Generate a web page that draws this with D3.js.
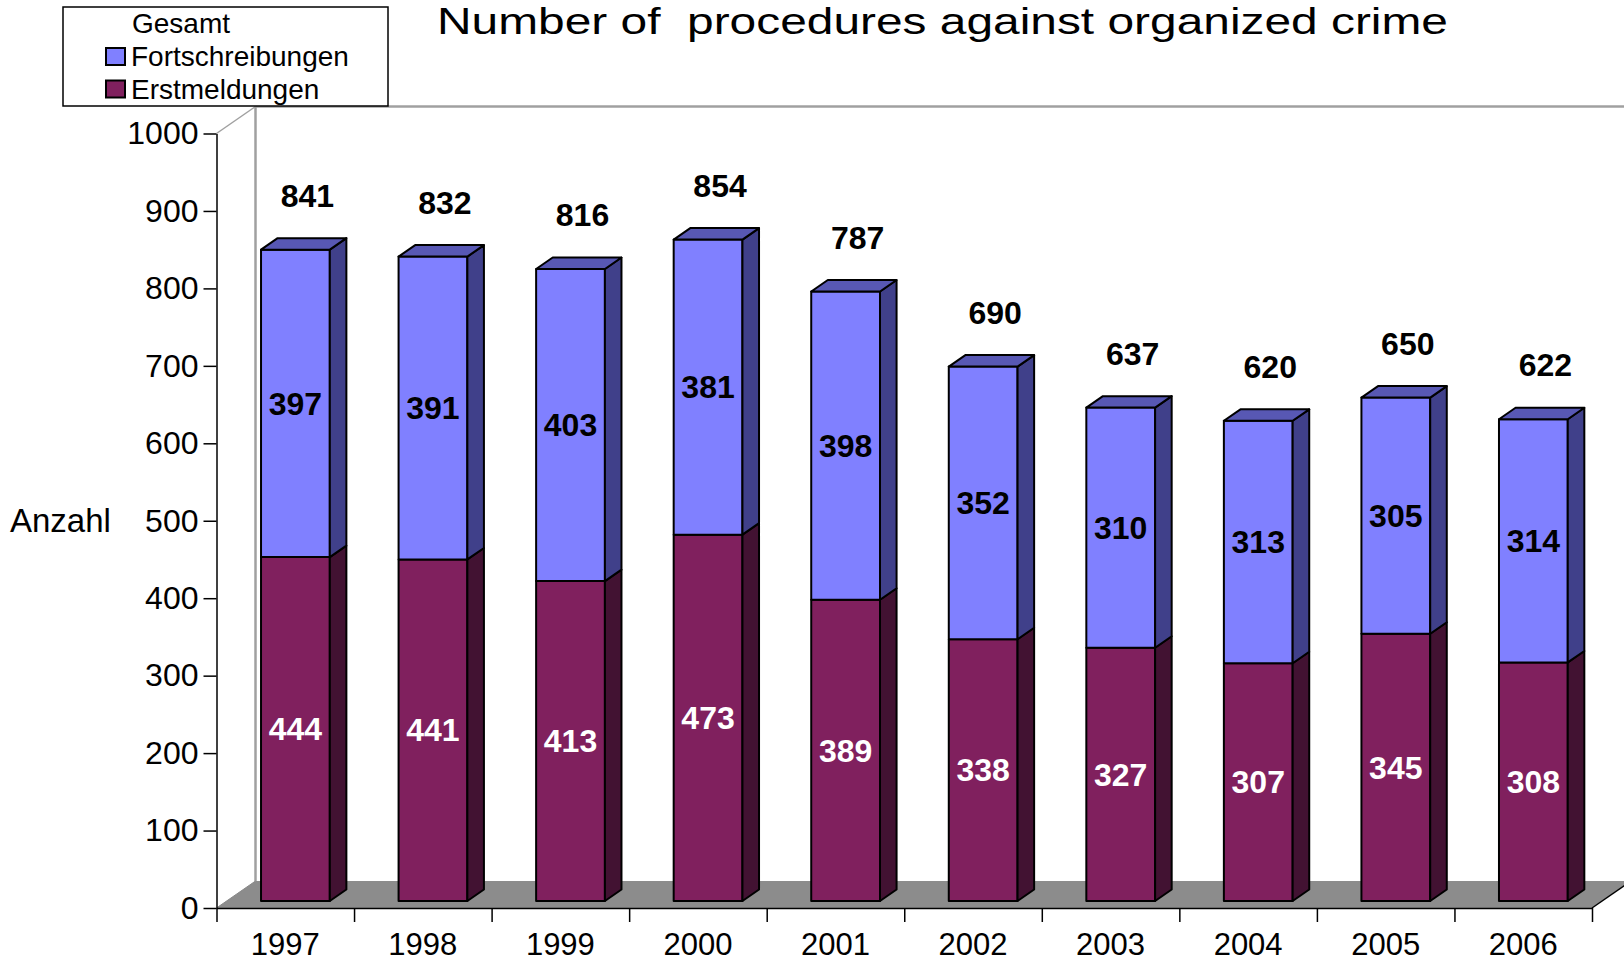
<!DOCTYPE html>
<html>
<head>
<meta charset="utf-8">
<script src="https://cdn.jsdelivr.net/npm/d3@7"></script>
<style>
  body { margin: 0; background: #fff; }
  text { font-family: "Liberation Sans", Arial, sans-serif; }
</style>
</head>
<body>
<svg width="1624" height="963"></svg>
<script>
var years = ["1997", "1998", "1999", "2000", "2001", "2002", "2003", "2004", "2005", "2006"];
var erstmeldungen = [444, 441, 413, 473, 389, 338, 327, 307, 345, 308];
var fortschreibungen = [397, 391, 403, 381, 398, 352, 310, 313, 305, 314];
var gesamt = [841, 832, 816, 854, 787, 690, 637, 620, 650, 622];
var yTicks = [0, 100, 200, 300, 400, 500, 600, 700, 800, 900, 1000];
var seriesNames = ["Fortschreibungen", "Erstmeldungen"];

var svg = d3.select("svg"),
    width = +svg.attr("width"),
    height = +svg.attr("height");

// 3d depth of the plot box (floor / walls)
var depthX = 39, depthY = -27;
// bars sit between these depth fractions
var t1 = 0.26, t2 = 0.685;

var x = d3.scaleBand()
    .domain(years)
    .range([216.5, 1592]);

var xEdges = d3.scaleLinear()
    .domain([0, years.length])
    .range([216.5, 1592]);

var y = d3.scaleLinear()
    .domain([0, 1000])
    .range([908, 133.5]);

var colors = {
    Fortschreibungen: { front: "#8080ff", side: "#40408a", top: "#5858b4" },
    Erstmeldungen: { front: "#80205e", side: "#421232", top: "#5a1642" }
};

var x0 = 216.5, x1 = 1592, yb = y(0), yt = y(1000);

// back wall + left wall outlines
var walls = svg.append("g").attr("fill", "none").attr("stroke", "#a0a0a0").attr("stroke-width", 2.5);
walls.append("line")
    .attr("x1", x0 + depthX).attr("y1", yb + depthY)
    .attr("x2", x0 + depthX).attr("y2", yt + depthY);
walls.append("line")
    .attr("x1", x0 + depthX).attr("y1", yt + depthY)
    .attr("x2", width).attr("y2", yt + depthY);
walls.append("line")
    .attr("stroke-width", 1.5)
    .attr("x1", x0).attr("y1", yt)
    .attr("x2", x0 + depthX).attr("y2", yt + depthY);

// floor
svg.append("path")
    .attr("d", "M" + x0 + "," + yb + "L" + x1 + "," + yb + "L" + (x1 + depthX) + "," + (yb + depthY) +
        "L" + (x0 + depthX) + "," + (yb + depthY) + "Z")
    .attr("fill", "#8c8c8c")
    .attr("stroke", "none");
svg.append("line")
    .attr("x1", x1).attr("y1", yb)
    .attr("x2", x1 + depthX).attr("y2", yb + depthY)
    .attr("stroke", "#000").attr("stroke-width", 1.5);
svg.append("line")
    .attr("x1", x0).attr("y1", yb)
    .attr("x2", x0 + depthX).attr("y2", yb + depthY)
    .attr("stroke", "#888").attr("stroke-width", 1);

// axes
var yAxis = svg.append("g")
    .attr("transform", "translate(" + x0 + ",0)")
    .call(d3.axisLeft(y).tickValues(yTicks).tickFormat(d3.format("d")).tickSize(13).tickSizeOuter(0).tickPadding(5));
yAxis.selectAll("text").attr("font-size", 32).attr("font-family", "'Liberation Sans', Arial, sans-serif").attr("fill", "#000");
yAxis.selectAll("line, path").attr("stroke", "#000").attr("stroke-width", 1.5);

var xTickAxis = svg.append("g")
    .attr("transform", "translate(0," + yb + ")")
    .call(d3.axisBottom(xEdges).tickValues(d3.range(years.length + 1)).tickFormat("").tickSize(14).tickSizeOuter(0));
xTickAxis.selectAll("line, path").attr("stroke", "#000").attr("stroke-width", 1.5);

var xAxis = svg.append("g")
    .attr("transform", "translate(0," + yb + ")")
    .call(d3.axisBottom(x).tickSize(0).tickPadding(25));
xAxis.select(".domain").remove();
xAxis.selectAll("text").attr("font-size", 31).attr("font-family", "'Liberation Sans', Arial, sans-serif").attr("fill", "#000");

svg.append("text")
    .attr("x", 10)
    .attr("y", y(500))
    .attr("dy", "0.35em")
    .attr("font-size", 33)
    .text("Anzahl");

// bars
var barW = x.bandwidth() * 0.5;
var offX = depthX * t1, offY = depthY * t1;
var sideX = depthX * (t2 - t1), sideY = depthY * (t2 - t1);

var rows = years.map(function (yr, i) {
    return [
        { year: yr, name: "Erstmeldungen", v0: 0, v1: erstmeldungen[i] },
        { year: yr, name: "Fortschreibungen", v0: erstmeldungen[i], v1: erstmeldungen[i] + fortschreibungen[i] }
    ];
});

function frontLeft(d) { return x(d.year) + x.bandwidth() / 2 - barW / 2 + offX; }

var bars = svg.append("g")
    .attr("stroke", "#000")
    .attr("stroke-width", 2)
    .attr("stroke-linejoin", "round")
    .selectAll("g")
    .data(rows)
    .enter().append("g");

var seg = bars.selectAll("g")
    .data(function (d) { return d; })
    .enter().append("g");

seg.append("rect")
    .attr("x", frontLeft)
    .attr("y", function (d) { return y(d.v1) + offY; })
    .attr("width", barW)
    .attr("height", function (d) { return y(d.v0) - y(d.v1); })
    .attr("fill", function (d) { return colors[d.name].front; });

seg.append("path")
    .attr("d", function (d) {
        var xr = frontLeft(d) + barW, ya = y(d.v1) + offY, yz = y(d.v0) + offY;
        return "M" + xr + "," + ya + "L" + (xr + sideX) + "," + (ya + sideY) +
            "L" + (xr + sideX) + "," + (yz + sideY) + "L" + xr + "," + yz + "Z";
    })
    .attr("fill", function (d) { return colors[d.name].side; });

seg.filter(function (d) { return d.name === "Fortschreibungen"; })
    .append("path")
    .attr("d", function (d) {
        var xl = frontLeft(d), ya = y(d.v1) + offY;
        return "M" + xl + "," + ya + "L" + (xl + barW) + "," + ya + "L" + (xl + barW + sideX) + "," + (ya + sideY) +
            "L" + (xl + sideX) + "," + (ya + sideY) + "Z";
    })
    .attr("fill", function (d) { return colors[d.name].top; });

// segment labels
svg.append("g")
    .selectAll("text")
    .data(d3.merge(rows))
    .enter().append("text")
    .attr("x", function (d) { return frontLeft(d) + barW / 2; })
    .attr("y", function (d) { return (y(d.v0) + y(d.v1)) / 2 + offY; })
    .attr("dy", "0.35em")
    .attr("text-anchor", "middle")
    .attr("font-size", 32)
    .attr("font-weight", "bold")
    .attr("fill", function (d) { return d.name === "Erstmeldungen" ? "#fff" : "#000"; })
    .text(function (d) { return d.v1 - d.v0; });

// totals
svg.append("g")
    .selectAll("text")
    .data(years)
    .enter().append("text")
    .attr("x", function (d) { return x(d) + x.bandwidth() / 2 + offX + 12; })
    .attr("y", function (d, i) { return y(gesamt[i]) + offY - 54; })
    .attr("dy", "0.35em")
    .attr("text-anchor", "middle")
    .attr("font-size", 32)
    .attr("font-weight", "bold")
    .text(function (d, i) { return gesamt[i]; });

// title
svg.append("text")
    .attr("x", 437)
    .attr("y", 34)
    .attr("font-size", 36)
    .attr("textLength", 1011)
    .attr("lengthAdjust", "spacingAndGlyphs")
    .style("white-space", "pre")
    .text("Number of  procedures against organized crime");

// legend
var legend = svg.append("g");
legend.append("rect")
    .attr("x", 63).attr("y", 7)
    .attr("width", 325).attr("height", 99)
    .attr("fill", "#fff")
    .attr("stroke", "#000")
    .attr("stroke-width", 1.5);
legend.append("text")
    .attr("x", 132).attr("y", 33)
    .attr("font-size", 28)
    .text("Gesamt");

var li = legend.selectAll("g.item")
    .data(seriesNames)
    .enter().append("g")
    .attr("class", "item")
    .attr("transform", function (d, i) { return "translate(0," + (i * 32.5) + ")"; });
li.append("rect")
    .attr("x", 106).attr("y", 48)
    .attr("width", 19).attr("height", 17)
    .attr("fill", function (d) { return colors[d].front; })
    .attr("stroke", "#000")
    .attr("stroke-width", 2);
li.append("text")
    .attr("x", 131).attr("y", 66)
    .attr("font-size", 28)
    .text(function (d) { return d; });
</script>
</body>
</html>
